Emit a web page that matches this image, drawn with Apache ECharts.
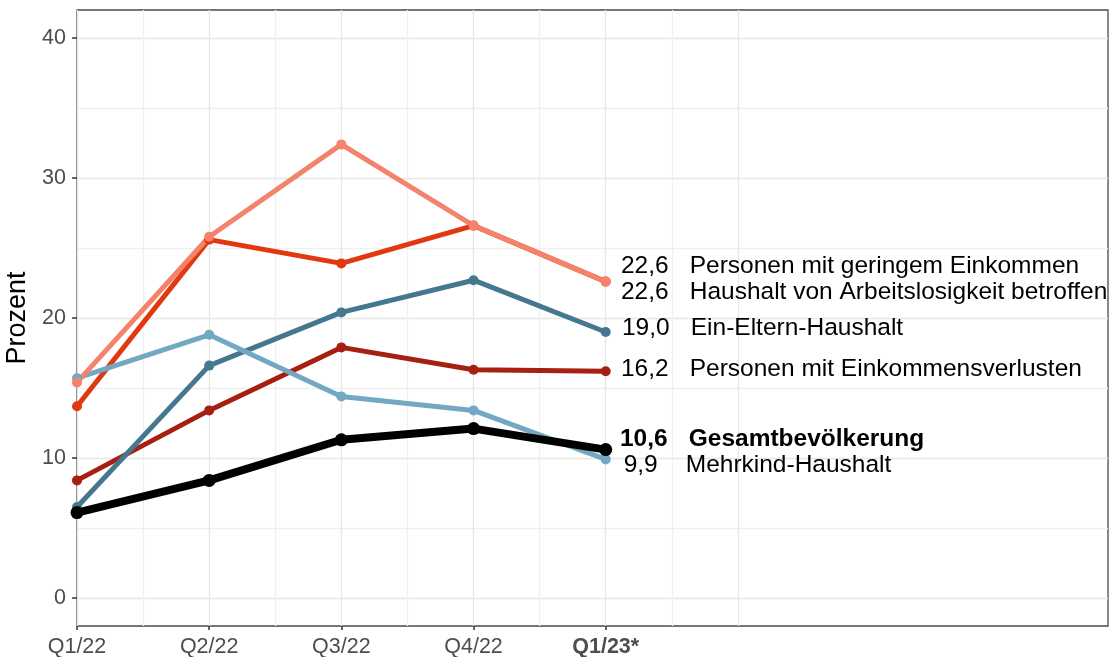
<!DOCTYPE html>
<html>
<head>
<meta charset="utf-8">
<script src="https://cdn.jsdelivr.net/npm/echarts@6/dist/echarts.min.js"></script>
<style>
    html, body { margin: 0; padding: 0; background: #fff; }
    #chart { width: 1111px; height: 657px; }
</style>
</head>
<body>
<div id="chart"></div>
<script>
var quarters = ["Q1/22", "Q2/22", "Q3/22", "Q4/22", "Q1/23*"];
var xTicks = [1, 2, 3, 4, 5];
var yTicks = [0, 10, 20, 30, 40];

var arbeitslos = [13.7, 25.6, 23.9, 26.6, 22.6];
var verluste = [8.4, 13.4, 17.9, 16.3, 16.2];
var einEltern = [6.5, 16.6, 20.4, 22.7, 19.0];
var mehrkind = [15.7, 18.8, 14.4, 13.4, 9.9];
var geringEink = [15.4, 25.8, 32.4, 26.6, 22.6];
var gesamt = [6.1, 8.4, 11.3, 12.1, 10.6];

var font = "'Liberation Sans', Arial, sans-serif";
var major = "#E6E6E6";
var minor = "#F0F0F0";
var clear = "rgba(0,0,0,0)";

// grid line colours, one per tick of the helper axes
// (x: every 0.5 from 1, y: every 1 from -2)
var xLineColors = [];
for (var i = 0; i <= 16; i++) {
    var xv = 1 + i * 0.5;
    xLineColors.push(xv <= 6 ? (i % 2 === 0 ? major : minor) : clear);
}
var yLineColors = [];
for (var j = 0; j <= 44; j++) {
    var yv = -2 + j;
    if (yv >= 0 && yv <= 40 && yv % 10 === 0) {
        yLineColors.push(major);
    } else if (yv > 0 && yv < 40 && yv % 5 === 0) {
        yLineColors.push(minor);
    } else {
        yLineColors.push(clear);
    }
}

function makeSeries(name, values, color, width, symbolSize, dx, dy, bold) {
    var data = values.map(function (v, idx) {
        var item = { value: [idx + 1, v] };
        if (idx === values.length - 1) {
            item.label = {
                show: true,
                position: "right",
                distance: 5 - symbolSize / 2 + 5,
                offset: [dx, dy],
                formatter: "{v|" + v.toFixed(1).replace(".", ",") + "}{n|" + name + "}",
                rich: {
                    v: {
                        width: 58, align: "center", fontSize: 24.5, color: "#000",
                        fontFamily: font, fontWeight: bold ? "bold" : "normal"
                    },
                    n: {
                        padding: [0, 0, 0, 16], fontSize: 24.5, color: "#000",
                        fontFamily: font, fontWeight: bold ? "bold" : "normal"
                    }
                }
            };
        }
        return item;
    });
    return {
        name: name,
        type: "line",
        xAxisIndex: 0,
        yAxisIndex: 0,
        data: data,
        symbol: "circle",
        symbolSize: symbolSize,
        showAllSymbol: true,
        lineStyle: { color: color, width: width },
        itemStyle: { color: color },
        emphasis: { disabled: true },
        z: 3
    };
}

var chart = echarts.init(document.getElementById("chart"));
chart.setOption({
    animation: false,
    backgroundColor: "#fff",
    grid: {
        left: 77, top: 10, right: 3, bottom: 31,
        show: true, borderColor: "#4a4a4a", borderWidth: 1.3,
        containLabel: false, outerBoundsMode: "none"
    },
    xAxis: [{
        type: "value",
        min: 1, max: 8.8, interval: 0.5,
        axisLine: { show: false, onZero: false },
        axisTick: {
            show: true, customValues: xTicks, length: 4,
            lineStyle: { color: "#333", width: 1.5 }
        },
        axisLabel: {
            show: true,
            customValues: xTicks,
            margin: 10,
            fontSize: 21.5,
            fontFamily: font,
            color: "#4D4D4D",
            formatter: function (v) {
                var q = quarters[Math.round(v) - 1];
                return Math.round(v) === quarters.length ? "{b|" + q + "}" : q;
            },
            rich: {
                b: { fontSize: 21.5, fontFamily: font, fontWeight: "bold", color: "#4D4D4D" }
            }
        },
        splitLine: { show: false }
    }, {
        // helper axis for the vertical grid lines only
        type: "value",
        position: "top",
        min: 1, max: 8.8, interval: 0.5,
        axisLine: { show: false },
        axisTick: { show: false },
        axisLabel: { show: false },
        splitLine: { show: true, lineStyle: { color: xLineColors, width: 1.3 } }
    }],
    yAxis: [{
        type: "value",
        min: -2, max: 42, interval: 1,
        name: "Prozent",
        nameLocation: "middle",
        nameGap: 36,
        nameTextStyle: { fontSize: 27, fontFamily: font, color: "#000" },
        axisLine: { show: false, onZero: false },
        axisTick: {
            show: true, customValues: yTicks, length: 5,
            lineStyle: { color: "#333", width: 1.5 }
        },
        axisLabel: {
            show: true,
            customValues: yTicks,
            margin: 11,
            fontSize: 21.5,
            fontFamily: font,
            color: "#4D4D4D"
        },
        splitLine: { show: false }
    }, {
        // helper axis for the horizontal grid lines only
        type: "value",
        position: "left",
        min: -2, max: 42, interval: 1,
        axisLine: { show: false },
        axisTick: { show: false },
        axisLabel: { show: false },
        splitLine: { show: true, lineStyle: { color: yLineColors, width: 1.3 } }
    }],
    series: [
        makeSeries("Haushalt von Arbeitslosigkeit betroffen", arbeitslos, "#E2380F", 5, 10, 0, 11, false),
        makeSeries("Personen mit Einkommensverlusten", verluste, "#A52010", 5, 10, 0, -2, false),
        makeSeries("Ein-Eltern-Haushalt", einEltern, "#45788F", 5, 10, 1, -4, false),
        makeSeries("Mehrkind-Haushalt", mehrkind, "#72A8C2", 5, 10, -4, 6, false),
        makeSeries("Personen mit geringem Einkommen", geringEink, "#F4836B", 5, 10, 0, -15, false),
        makeSeries("Gesamtbevölkerung", gesamt, "#000000", 8, 13, -1, -10, true)
    ]
});
</script>
</body>
</html>
